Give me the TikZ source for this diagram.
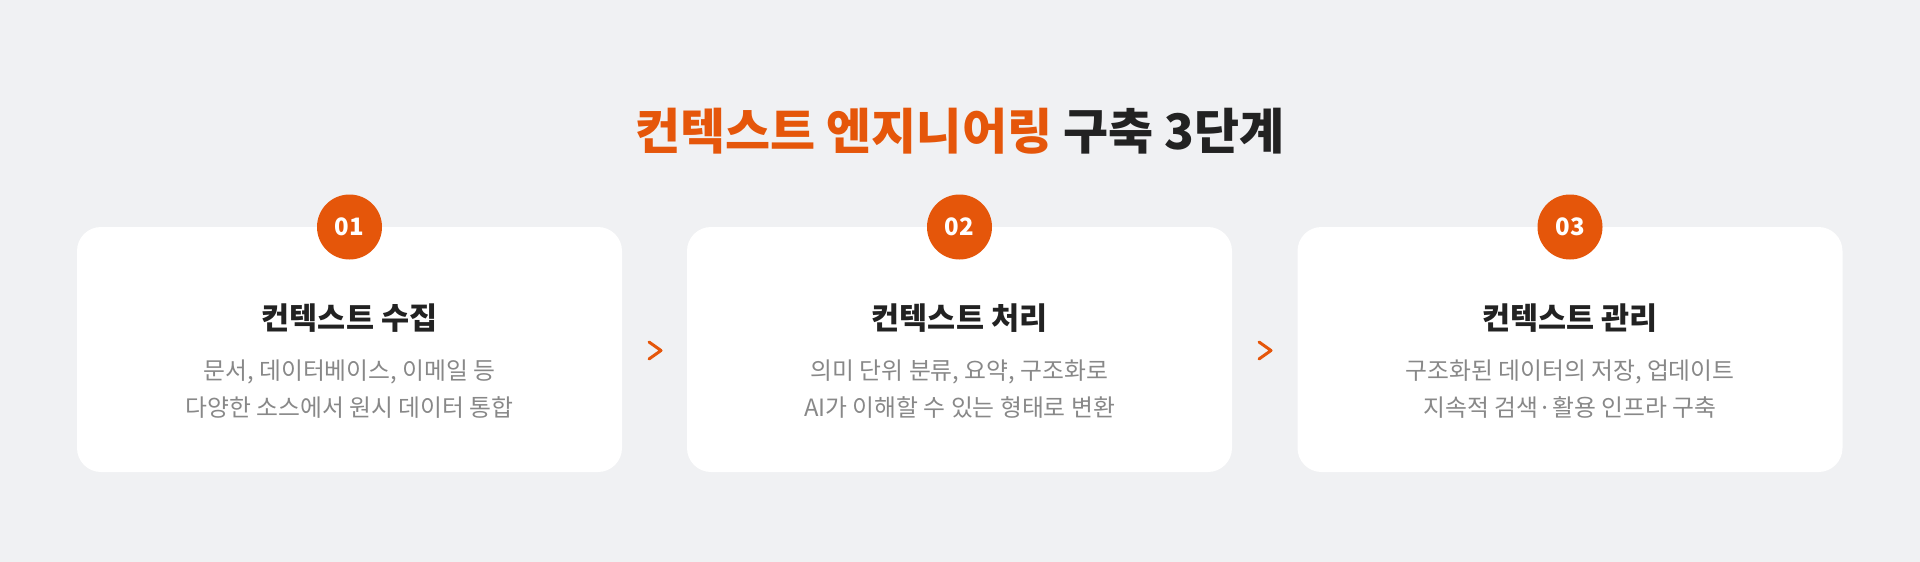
\documentclass[tikz,border=0pt]{standalone}
\usepackage{fontspec}
\setmainfont{Noto Sans CJK KR}
\definecolor{bgc}{HTML}{F0F1F3}
\definecolor{orng}{HTML}{E5560A}
\definecolor{darktxt}{HTML}{222222}
\definecolor{graytxt}{HTML}{888888}
\tikzset{
  card/.style={fill=white, rounded corners=24pt, draw=none},
  numdot/.style={circle, fill=orng, minimum size=65pt, inner sep=0pt, text=white, font=\fontsize{24pt}{28pt}\selectfont\bfseries},
  cardtitle/.style={anchor=base, inner sep=0pt, text=darktxt, font=\fontsize{30.5pt}{34pt}\selectfont\bfseries},
  desc/.style={anchor=base, inner sep=0pt, text=graytxt, font=\fontsize{23.8pt}{27pt}\selectfont},
  chev/.style={draw=orng, line width=3pt, line cap=round, line join=round},
}
\begin{document}
\begin{tikzpicture}[x=1pt,y=-1pt]
\fill[bgc] (0,0) rectangle (1920,562);
\useasboundingbox (0,0) rectangle (1920,562);
% title
\node[anchor=base, inner sep=0pt, font=\fontsize{49pt}{53pt}\selectfont\bfseries] (title) at (960,149.5)
  {\textcolor{orng}{컨텍스트 엔지니어링} \textcolor{darktxt}{구축 3단계}};
% cards
\foreach \i/\cx/\num/\ttl/\la/\lb in {
  1/349.5/01/컨텍스트 수집/{문서, 데이터베이스, 이메일 등}/{다양한 소스에서 원시 데이터 통합},
  2/959.5/02/컨텍스트 처리/{의미 단위 분류, 요약, 구조화로}/{AI가 이해할 수 있는 형태로 변환},
  3/1570/03/컨텍스트 관리/{구조화된 데이터의 저장, 업데이트}/{지속적 검색·활용 인프라 구축}}{
  \path[card] (\cx-272.5,227) rectangle (\cx+272.5,472);
  \coordinate (card\i) at (\cx,349.5);
  \node[numdot] (n\i) at (\cx,227) {\num};
  \node[cardtitle] (t\i) at (\cx,329) {\ttl};
  \node[desc] (a\i) at (\cx,379.5) {\la};
  \node[desc] (b\i) at (\cx,416.5) {\lb};
}
% chevrons
\coordinate (c1) at (655,350.5);
\coordinate (c2) at (1265,350.5);
\draw[chev] ([shift={(-6,-8.5)}]c1) -- ([shift={(6,0)}]c1) -- ([shift={(-6,8.5)}]c1);
\draw[chev] ([shift={(-6,-8.5)}]c2) -- ([shift={(6,0)}]c2) -- ([shift={(-6,8.5)}]c2);
\end{tikzpicture}
\end{document}
